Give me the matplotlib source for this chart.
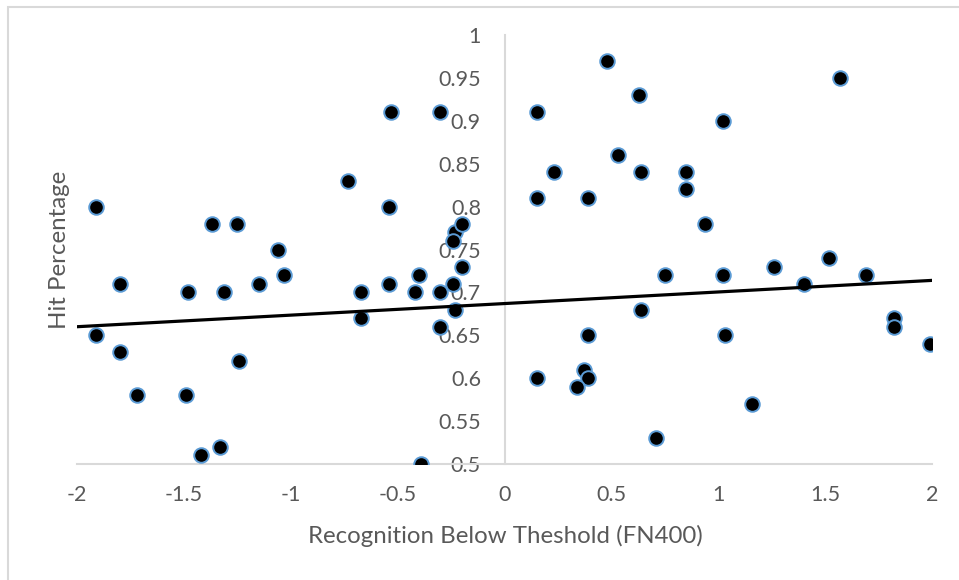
import numpy as np
import matplotlib.pyplot as plt
from matplotlib.patches import Rectangle

# FN400 recognition below threshold vs hit percentage
fn400 = [-1.91, -1.91, -1.80, -1.80, -1.72, -1.48, -1.49, -1.42, -1.33, -1.37,
         -1.25, -1.31, -1.24, -1.15, -1.06, -1.03, -0.73, -0.67, -0.67, -0.53,
         -0.54, -0.54, -0.40, -0.42, -0.39, -0.30, -0.30, -0.30, -0.24, -0.23,
         -0.23, -0.24, -0.20, -0.20,
         0.15, 0.15, 0.23, 0.48, 0.53, 0.63, 0.64, 0.39, 0.85, 0.85,
         1.02, 0.94, 1.57, 0.15, 0.39, 0.37, 0.39, 0.34, 0.64, 0.75,
         0.71, 1.02, 1.03, 1.16, 1.26, 1.40, 1.52, 1.69, 1.82, 1.82, 1.99]
hits = [0.80, 0.65, 0.71, 0.63, 0.58, 0.70, 0.58, 0.51, 0.52, 0.78,
        0.78, 0.70, 0.62, 0.71, 0.75, 0.72, 0.83, 0.70, 0.67, 0.91,
        0.80, 0.71, 0.72, 0.70, 0.50, 0.91, 0.70, 0.66, 0.71, 0.68,
        0.77, 0.76, 0.78, 0.73,
        0.91, 0.81, 0.84, 0.97, 0.86, 0.93, 0.84, 0.81, 0.84, 0.82,
        0.90, 0.78, 0.95, 0.60, 0.65, 0.61, 0.60, 0.59, 0.68, 0.72,
        0.53, 0.72, 0.65, 0.57, 0.73, 0.71, 0.74, 0.72, 0.67, 0.66, 0.64]

# linear trendline as shown in the chart
trend_slope = 0.0135
trend_intercept = 0.687

x_ticks = [-2, -1.5, -1, -0.5, 0, 0.5, 1, 1.5, 2]
y_ticks = [0.5, 0.55, 0.6, 0.65, 0.7, 0.75, 0.8, 0.85, 0.9, 0.95, 1]

plt.rcParams['font.family'] = ['Lato', 'DejaVu Sans']
grey = '#595959'
axis_col = '#d9d9d9'

fig = plt.figure(figsize=(9.59, 5.8), dpi=100)
ax = fig.add_axes([77 / 959, 116 / 580, 855 / 959, 429 / 580])

ax.scatter(fn400, hits, s=110, c='black', edgecolors='#5b9bd5',
           linewidths=1.4, zorder=3)

tx = np.array([-2, 2])
ax.plot(tx, trend_slope * tx + trend_intercept, color='black', lw=2.3,
        zorder=4)

ax.set_xlim(-2, 2)
ax.set_ylim(0.5, 1)
ax.set_xticks(x_ticks)
ax.set_xticklabels(['-2', '-1.5', '-1', '-0.5', '0', '0.5', '1', '1.5', '2'])
ax.set_yticks(y_ticks)
ax.set_yticklabels(['0.5', '0.55', '0.6', '0.65', '0.7', '0.75', '0.8',
                    '0.85', '0.9', '0.95', '1'])

ax.spines['left'].set_position(('data', 0))
ax.spines['top'].set_visible(False)
ax.spines['right'].set_visible(False)
for s in ['left', 'bottom']:
    ax.spines[s].set_color(axis_col)
    ax.spines[s].set_linewidth(1.5)
ax.tick_params(axis='both', length=0, labelsize=15.5, labelcolor=grey)
ax.tick_params(axis='y', pad=17)
ax.tick_params(axis='x', pad=15)

fig.text(505 / 959, 1 - 536 / 580, 'Recognition Below Theshold (FN400)',
         ha='center', va='center', fontsize=17.3, color=grey)
fig.text(60 / 959, 1 - 250 / 580, 'Hit Percentage', ha='center',
         va='center', rotation=90, fontsize=17.3, color=grey)

# chart border
fig.add_artist(Rectangle((8 / 959, -0.1), 1.2, 1.1 - 7 / 580,
                         transform=fig.transFigure, fill=False,
                         edgecolor=axis_col, lw=1.5))

plt.savefig('out.png', dpi=100)
